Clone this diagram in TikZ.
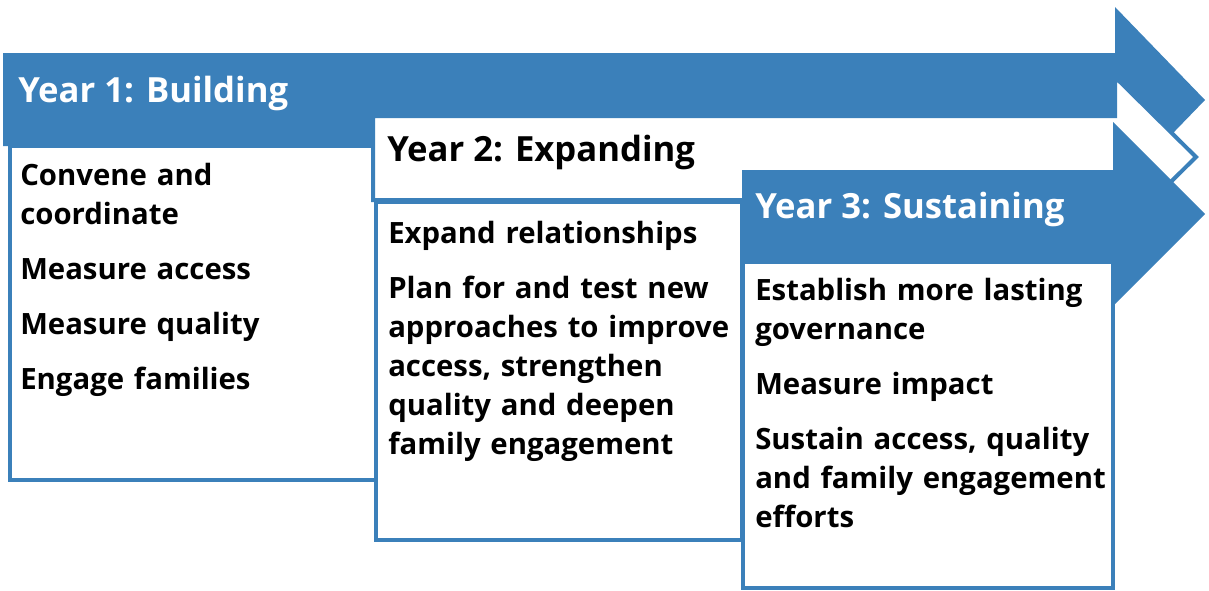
\documentclass[tikz,border=0pt]{standalone}
\usepackage{fontspec}
\setmainfont{Open Sans}
\definecolor{yearblue}{RGB}{59,128,186}

\begin{document}
\begin{tikzpicture}[x=0.75pt, y=-0.75pt,
    yearhead/.style={font=\bfseries\fontsize{26}{32}\selectfont, inner sep=0pt, anchor=base west},
    yearbody/.style={font=\bfseries\fontsize{22}{29.25}\selectfont, inner sep=0pt, anchor=base west, text width=300pt, align=left},
    yearbox/.style={draw=yearblue, line width=3pt, fill=white}]
\useasboundingbox (0,0) rectangle (1209,590);

% year 1
\fill[yearblue] (3,53) -- (1115,53) -- (1115,7) -- (1205,100) -- (1115,193) -- (1115,146) -- (3,146) -- cycle;
\draw[yearbox] (10,146) rectangle (376,480);
\node[yearhead, text=white] (head1) at (18,102) {Year 1: Building};
\node[yearbody] (body1) at (20,185) {Convene and\\coordinate\\[12pt]Measure access\\[12pt]Measure quality\\[12pt]Engage families};

% year 2
\draw[yearbox, line join=miter] (373,116) -- (1115,116) -- (1115,77) -- (1196,157) -- (1115,237) -- (1115,200) -- (373,200) -- cycle;
\draw[yearbox] (376,202) rectangle (742,540);
\node[yearhead] (head2) at (387,161) {Year 2: Expanding};
\node[yearbody] (body2) at (388,243) {Expand relationships\\[12pt]Plan for and test new\\approaches to improve\\access, strengthen\\quality and deepen\\family engagement};

% year 3
\fill[yearblue] (742,170) -- (1113,170) -- (1113,122) -- (1205,214) -- (1113,306) -- (1113,262) -- (742,262) -- cycle;
\draw[yearbox] (743,262) rectangle (1113,588);
\node[yearhead, text=white] (head3) at (755,218) {Year 3: Sustaining};
\node[yearbody] (body3) at (755,300) {Establish more lasting\\governance\\[12pt]Measure impact\\[12pt]Sustain access, quality\\and family engagement\\efforts};
\end{tikzpicture}
\end{document}
